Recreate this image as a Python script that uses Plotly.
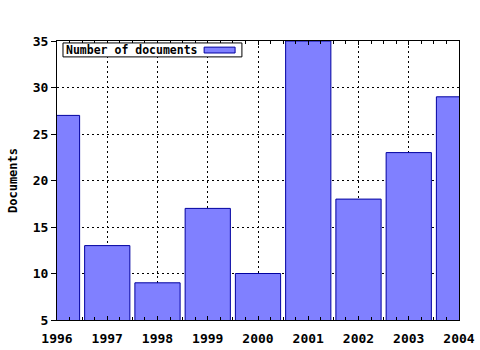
import plotly.graph_objects as go

years = [1996, 1997, 1998, 1999, 2000, 2001, 2002, 2003, 2004]
documents = [27, 13, 9, 17, 10, 35, 18, 23, 29]
series_name = "Number of documents"
y_title = "Documents"

font_fam = "DejaVu Sans Mono"

fig = go.Figure()
fig.add_trace(go.Bar(
    x=years, y=documents, name=series_name, width=0.9,
    marker=dict(color="#8080ff", line=dict(color="#0000a0", width=1)),
    showlegend=False,
))

fig.update_layout(
    width=480, height=350,
    margin=dict(l=57, r=21, t=41, b=30),
    paper_bgcolor="white", plot_bgcolor="white",
    font=dict(family=font_fam, size=12, color="black"),
    xaxis=dict(
        range=[1996, 2004], tickmode="array", tickvals=years,
        ticktext=[str(y) for y in years],
        tickfont=dict(family=font_fam, size=13, weight="bold"),
        showline=True, linecolor="black", linewidth=1, mirror="ticks",
        ticks="inside", ticklen=4, tickcolor="black",
        showgrid=True, gridcolor="black", gridwidth=1, griddash="2px,3px",
        minor=dict(dtick=0.25, tick0=1996, ticks="inside", ticklen=3, tickcolor="black", showgrid=False),
        zeroline=False, automargin=False, ticklabelstandoff=6,
    ),
    yaxis=dict(
        range=[5, 35], dtick=5, tick0=5,
        tickfont=dict(family=font_fam, size=13, weight="bold"),
        showline=True, linecolor="black", linewidth=1, mirror=True,
        ticks="outside", ticklen=5, tickcolor="black",
        showgrid=True, gridcolor="black", gridwidth=1, griddash="2px,3px",
        zeroline=False, automargin=False,
        title=dict(text=y_title, font=dict(family=font_fam, size=12, weight="bold"), standoff=12),
    ),
    bargap=0.1,
)

# legend box (text + swatch on the right)
fig.add_shape(
    type="rect", xref="paper", yref="paper",
    x0=0.0149, x1=0.460, y0=0.943, y1=0.993,
    fillcolor="white", line=dict(color="black", width=1),
)
fig.add_shape(
    type="rect", xref="paper", yref="paper",
    x0=0.366, x1=0.443, y0=0.957, y1=0.978,
    fillcolor="#8080ff", line=dict(color="#0000a0", width=1),
)
fig.add_annotation(
    xref="paper", yref="paper", x=0.02, y=0.968, xanchor="left", yanchor="middle",
    text=series_name, showarrow=False,
    font=dict(family=font_fam, size=11.5, weight="bold", color="black"),
    borderpad=0,
)

fig.write_html("out.html")
